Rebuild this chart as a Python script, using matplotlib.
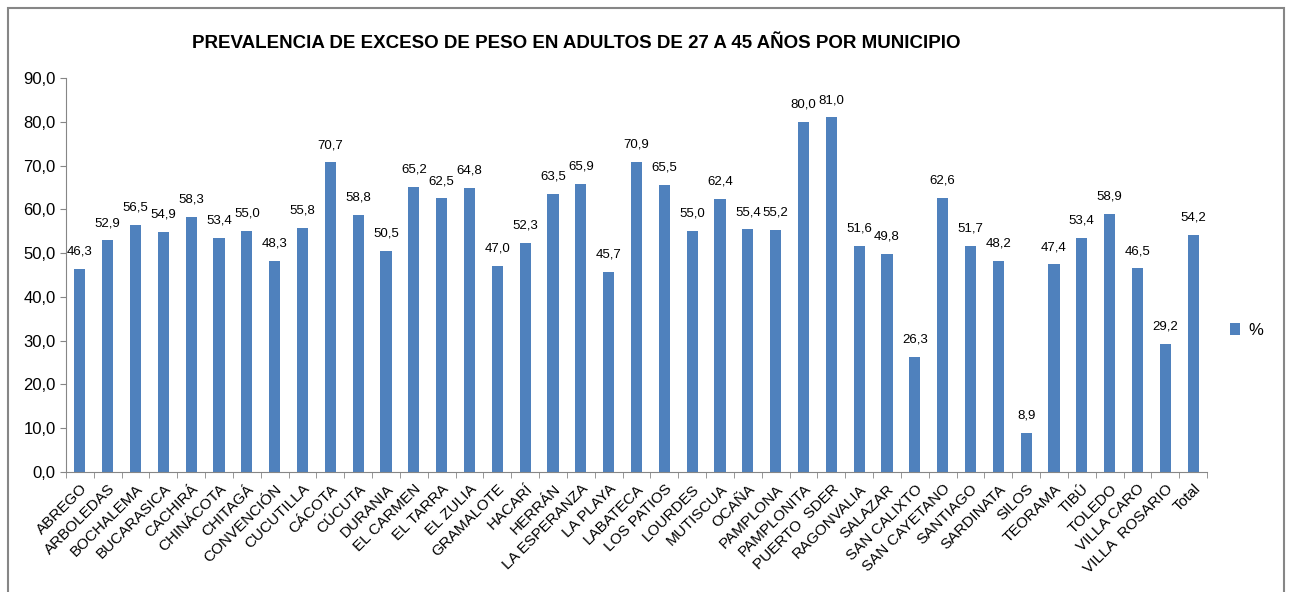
import matplotlib
matplotlib.use("Agg")
import matplotlib.pyplot as plt
import numpy as np
from matplotlib.patches import Rectangle
from matplotlib.ticker import FuncFormatter, MultipleLocator

MUNICIPIOS = [
    "ABREGO", "ARBOLEDAS", "BOCHALEMA", "BUCARASICA", "CACHIRÁ", "CHINÁCOTA",
    "CHITAGÁ", "CONVENCIÓN", "CUCUTILLA", "CÁCOTA", "CÚCUTA", "DURANIA",
    "EL CARMEN", "EL TARRA", "EL ZULIA", "GRAMALOTE", "HACARÍ", "HERRÁN",
    "LA ESPERANZA", "LA PLAYA", "LABATECA", "LOS PATIOS", "LOURDES",
    "MUTISCUA", "OCAÑA", "PAMPLONA", "PAMPLONITA", "PUERTO  SDER",
    "RAGONVALIA", "SALAZAR", "SAN CALIXTO", "SAN CAYETANO", "SANTIAGO",
    "SARDINATA", "SILOS", "TEORAMA", "TIBÚ", "TOLEDO", "VILLA CARO",
    "VILLA  ROSARIO", "Total",
]
PREVALENCIA = [
    46.3, 52.9, 56.5, 54.9, 58.3, 53.4, 55.0, 48.3, 55.8, 70.7, 58.8, 50.5,
    65.2, 62.5, 64.8, 47.0, 52.3, 63.5, 65.9, 45.7, 70.9, 65.5, 55.0, 62.4,
    55.4, 55.2, 80.0, 81.0, 51.6, 49.8, 26.3, 62.6, 51.7, 48.2, 8.9, 47.4,
    53.4, 58.9, 46.5, 29.2, 54.2,
]
BAR_COLOR = "#4F81BD"

plt.rcParams["font.family"] = ["Liberation Sans", "DejaVu Sans"]

fig = plt.figure(figsize=(12.9, 5.92), dpi=100)
# outer chart-area border (runs off the bottom like the screenshot)
fig.patches.append(Rectangle((8 / 1290, -0.05), 1276 / 1290, 1.05 - 8 / 592,
                             transform=fig.transFigure, fill=False,
                             edgecolor="#868686", linewidth=1.5))

ax = fig.add_axes([66 / 1290, 1 - 472 / 592, (1207 - 66) / 1290, (472 - 78) / 592])
x = np.arange(len(MUNICIPIOS))
ax.bar(x, PREVALENCIA, width=0.4, color=BAR_COLOR, label="%")
for xi, v in zip(x, PREVALENCIA):
    ax.text(xi, v + 2.6, f"{v:.1f}".replace(".", ","), ha="center",
            va="bottom", fontsize=9.5)

ax.set_xlim(-0.5, len(MUNICIPIOS) - 0.5)
ax.set_ylim(0, 90)
ax.yaxis.set_major_locator(MultipleLocator(10))
ax.yaxis.set_major_formatter(FuncFormatter(lambda v, p: f"{v:.1f}".replace(".", ",")))
ax.tick_params(axis="y", labelsize=12, length=4, color="#868686")
ax.set_xticks(np.arange(len(MUNICIPIOS) + 1) - 0.5, minor=True)
ax.set_xticks(x)
ax.set_xticklabels(MUNICIPIOS, rotation=45, ha="right", rotation_mode="anchor",
                   fontsize=11)
ax.tick_params(axis="x", which="major", length=0, pad=7)
ax.tick_params(axis="x", which="minor", length=4, color="#868686")
for side in ["top", "right"]:
    ax.spines[side].set_visible(False)
for side in ["left", "bottom"]:
    ax.spines[side].set_color("#868686")

ax.legend(loc="center left", bbox_to_anchor=(1.007, 0.36), frameon=False,
          fontsize=12, handlelength=0.6, handleheight=0.8, handletextpad=0.5)

fig.text(0.447, 1 - 43 / 592, "PREVALENCIA DE EXCESO DE PESO EN ADULTOS DE 27 A 45 AÑOS POR MUNICIPIO",
         ha="center", va="center", fontsize=13.5, fontweight="bold")

fig.savefig("out.png", dpi=100)
